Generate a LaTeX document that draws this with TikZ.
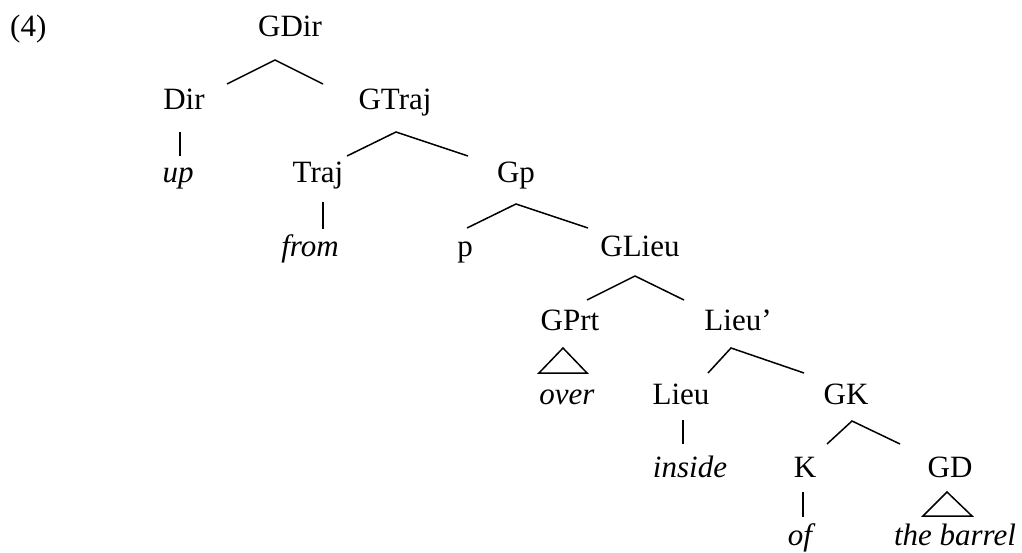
\documentclass[tikz,border=0pt]{standalone}
\usepackage{fontspec}
\setmainfont{Liberation Serif}
\begin{document}
\begin{tikzpicture}[x=1pt,y=-1pt,
  lab/.style={anchor=base,inner sep=0pt,font=\fontsize{31}{36}\selectfont},
  wrd/.style={lab,font=\fontsize{31}{36}\selectfont\itshape},
  br/.style={line width=1.5pt,line join=miter},
  tri/.style={line width=1.5pt,line join=miter}]
\useasboundingbox (0,0) rectangle (1022,553);
% labels
\node[lab,anchor=base west] (ex) at (10,37) {(4)};
\node[lab] (GDir) at (290,37) {GDir};
\node[lab] (Dir) at (184,110) {Dir};
\node[lab] (GTraj) at (395,110) {GTraj};
\node[wrd] (up) at (178,183) {up};
\node[lab] (Traj) at (318,183) {Traj};
\node[lab] (Gp) at (516,183) {Gp};
\node[wrd] (from) at (310,257) {from};
\node[lab] (p) at (465,257) {p};
\node[lab] (GLieu) at (640,257) {GLieu};
\node[lab] (GPrt) at (570,330) {GPrt};
\node[lab] (Lieup) at (738,330) {Lieu’};
\node[wrd] (over) at (567,404) {over};
\node[lab] (Lieu) at (681,404) {Lieu};
\node[lab] (GK) at (846,404) {GK};
\node[wrd] (inside) at (690,477) {inside};
\node[lab] (K) at (805,477) {K};
\node[lab] (GD) at (950,477) {GD};
\node[wrd] (of) at (800,545) {of};
\node[wrd] (barrel) at (955,545) {the barrel};
% branch points
\coordinate (GDir-a) at (275,60);
\coordinate (Dir-t) at (227,84);
\coordinate (GTraj-t) at (323,84);
\coordinate (GTraj-a) at (396,132);
\coordinate (Traj-t) at (347,156);
\coordinate (Gp-t) at (468,156);
\coordinate (Gp-a) at (516,204);
\coordinate (p-t) at (467,228);
\coordinate (GLieu-t) at (588,228);
\coordinate (GLieu-a) at (635,276);
\coordinate (GPrt-t) at (587,300);
\coordinate (Lieup-t) at (684,300);
\coordinate (Lieup-a) at (731,348);
\coordinate (Lieu-t) at (708,373);
\coordinate (GK-t) at (804,373);
\coordinate (GK-a) at (852,421);
\coordinate (K-t) at (827,444);
\coordinate (GD-t) at (900,444);
% unary bars
\coordinate (Dir-b) at (180,132);
\coordinate (up-t) at (180,156);
\coordinate (Traj-b) at (323,202);
\coordinate (from-t) at (323,229);
\coordinate (Lieu-b) at (683,420);
\coordinate (inside-t) at (683,444);
\coordinate (K-b) at (803,492);
\coordinate (of-t) at (803,517);
% triangles
\coordinate (GPrt-a) at (563,348);
\coordinate (over-l) at (539,373);
\coordinate (over-r) at (587,373);
\coordinate (GD-a) at (947,492);
\coordinate (barrel-l) at (923,516);
\coordinate (barrel-r) at (972,516);
% edges
\draw[br] (Dir-t) -- (GDir-a) -- (GTraj-t);
\draw[br] (Traj-t) -- (GTraj-a) -- (Gp-t);
\draw[br] (p-t) -- (Gp-a) -- (GLieu-t);
\draw[br] (GPrt-t) -- (GLieu-a) -- (Lieup-t);
\draw[br] (Lieu-t) -- (Lieup-a) -- (GK-t);
\draw[br] (K-t) -- (GK-a) -- (GD-t);
\draw[br] (Dir-b) -- (up-t);
\draw[br] (Traj-b) -- (from-t);
\draw[br] (Lieu-b) -- (inside-t);
\draw[br] (K-b) -- (of-t);
\draw[tri] (GPrt-a) -- (over-r) -- (over-l) -- cycle;
\draw[tri] (GD-a) -- (barrel-r) -- (barrel-l) -- cycle;
\end{tikzpicture}
\end{document}
